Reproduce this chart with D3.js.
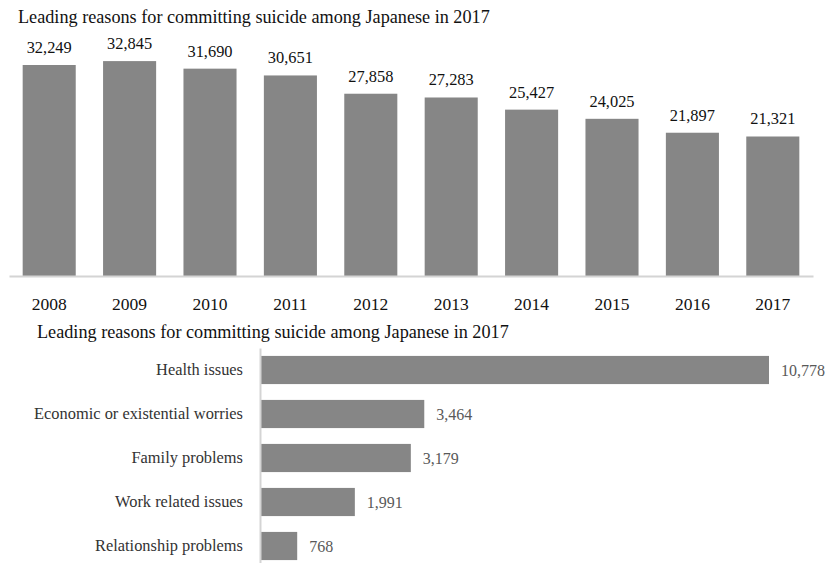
<!DOCTYPE html>
<html>
<head>
<meta charset="utf-8">
<script src="https://cdn.jsdelivr.net/npm/d3@7"></script>
<style>
  body { margin: 0; background: #fff; }
  svg { display: block; }
  svg text { font-family: "Liberation Serif", "Tinos", "Times New Roman", "DejaVu Serif", serif; }
</style>
</head>
<body>
<svg id="chart" width="827" height="563"></svg>
<script>
const title = "Leading reasons for committing suicide among Japanese in 2017";

const years = ["2008", "2009", "2010", "2011", "2012", "2013", "2014", "2015", "2016", "2017"];
const yearTotals = [32249, 32845, 31690, 30651, 27858, 27283, 25427, 24025, 21897, 21321];

const reasons = ["Health issues", "Economic or existential worries", "Family problems", "Work related issues", "Relationship problems"];
const reasonCounts = [10778, 3464, 3179, 1991, 768];

const barColor = "#868686";
const axisColor = "#d4d4d4";
const fmt = d3.format(",");

const svg = d3.select("#chart");

// ---- upper chart: totals per year ----
const upper = svg.append("g");

upper.append("text")
  .attr("x", 18).attr("y", 23)
  .attr("font-size", 18.2).attr("fill", "#111")
  .text(title);

const x = d3.scaleBand().domain(years).range([9, 813]).paddingInner(0.34).paddingOuter(0.17);
const y = d3.scaleLinear().domain([0, 35000]).range([276, 47]);

upper.selectAll("rect")
  .data(years)
  .enter().append("rect")
  .attr("x", d => x(d))
  .attr("width", x.bandwidth())
  .attr("y", (d, i) => y(yearTotals[i]))
  .attr("height", (d, i) => y(0) - y(yearTotals[i]))
  .attr("fill", barColor);

upper.selectAll(".val")
  .data(years)
  .enter().append("text")
  .attr("class", "val")
  .attr("x", d => x(d) + x.bandwidth() / 2)
  .attr("y", (d, i) => y(yearTotals[i]) - 12)
  .attr("text-anchor", "middle")
  .attr("font-size", 16.4).attr("fill", "#111")
  .text((d, i) => fmt(yearTotals[i]));

const xAxis = upper.append("g")
  .attr("transform", `translate(0,${y(0)})`)
  .call(d3.axisBottom(x).tickSize(0).tickPadding(22).tickSizeOuter(0));
xAxis.select(".domain").attr("stroke", axisColor).attr("stroke-width", 2);
xAxis.selectAll("text")
  .attr("font-size", 17.5).attr("fill", "#111");

// ---- lower chart: reasons in 2017 ----
const lower = svg.append("g");

lower.append("text")
  .attr("x", 37).attr("y", 338)
  .attr("font-size", 18.2).attr("fill", "#111")
  .text(title);

const yb = d3.scaleBand().domain(reasons).range([348, 568]).paddingInner(0.36).paddingOuter(0.18);
const xb = d3.scaleLinear().domain([0, 10778]).range([261, 769]);

lower.selectAll("rect")
  .data(reasons)
  .enter().append("rect")
  .attr("x", xb(0))
  .attr("y", d => yb(d))
  .attr("height", yb.bandwidth())
  .attr("width", (d, i) => xb(reasonCounts[i]) - xb(0))
  .attr("fill", barColor);

lower.selectAll(".val")
  .data(reasons)
  .enter().append("text")
  .attr("class", "val")
  .attr("x", (d, i) => xb(reasonCounts[i]) + 12)
  .attr("y", d => yb(d) + yb.bandwidth() / 2)
  .attr("dy", "0.35em")
  .attr("font-size", 16).attr("fill", "#595959")
  .text((d, i) => fmt(reasonCounts[i]));

const yAxis = lower.append("g")
  .attr("transform", `translate(${xb(0) - 1},0)`)
  .call(d3.axisLeft(yb).tickSize(0).tickPadding(17).tickSizeOuter(0));
yAxis.select(".domain").attr("stroke", axisColor).attr("stroke-width", 2);
yAxis.selectAll("text")
  .attr("font-size", 16.4).attr("fill", "#333");
</script>
</body>
</html>
